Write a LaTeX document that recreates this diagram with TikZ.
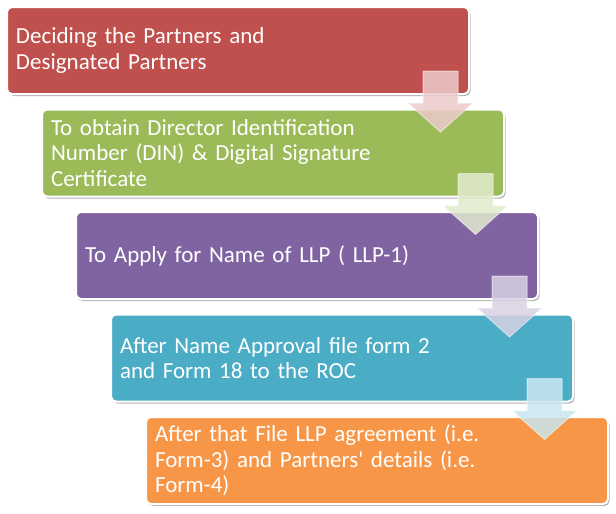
\documentclass[tikz,border=0pt]{standalone}
\usepackage{fontspec}
\setmainfont{Carlito}[Ligatures=TeXOff]
\usetikzlibrary{shadows}
\definecolor{llpred}{HTML}{C0504D}
\definecolor{llpgreen}{HTML}{9BBB59}
\definecolor{llppurple}{HTML}{8064A2}
\definecolor{llpblue}{HTML}{4BACC6}
\definecolor{llporange}{HTML}{F79646}
\tikzset{
	stepbox/.style={draw=white, line width=2pt, rounded corners=5pt, outer sep=0pt,
		minimum width=462pt, minimum height=87pt, text width=444pt, inner xsep=9pt,
		align=left, anchor=north west, text=white, font=\fontsize{23}{25.5}\selectfont,
		drop shadow={shadow xshift=1.5pt, shadow yshift=-2pt, opacity=0.3, fill=black}},
	flowarrow/.style={draw=white, draw opacity=0.5, line width=1pt, fill=#1!30!white, fill opacity=0.85}
}
\newcommand{\flowarrow}[2]{%
	\draw[flowarrow=#2] (#1.south east) ++(-46,23) -- ++(35,0) -- ++(0,-32) -- ++(15,0)
	-- ++(-32.5,-29) -- ++(-32.5,29) -- ++(15,0) -- cycle;}
\begin{document}
\begin{tikzpicture}[x=1pt,y=1pt]
	\useasboundingbox (0,0) rectangle (616,-514);
	\node[stepbox, fill=llpred] (s1) at (7,-7) {Deciding the Partners and\\Designated Partners};
	\node[stepbox, fill=llpgreen] (s2) at (42,-109.5) {To obtain Director Identification\\Number (DIN) \& Digital Signature\\Certificate};
	\node[stepbox, fill=llppurple] (s3) at (76,-212) {To Apply for Name of LLP ( LLP-1)};
	\node[stepbox, fill=llpblue] (s4) at (111,-314.5) {After Name Approval file form 2\\and Form 18 to the ROC};
	\node[stepbox, fill=llporange] (s5) at (146,-417) {After that File LLP agreement (i.e.\\Form-3) and Partners' details (i.e.\\Form-4)};
	% arrows between the steps
	\flowarrow{s1}{llpred}
	\flowarrow{s2}{llpgreen}
	\flowarrow{s3}{llppurple}
	\flowarrow{s4}{llpblue}
\end{tikzpicture}
\end{document}
